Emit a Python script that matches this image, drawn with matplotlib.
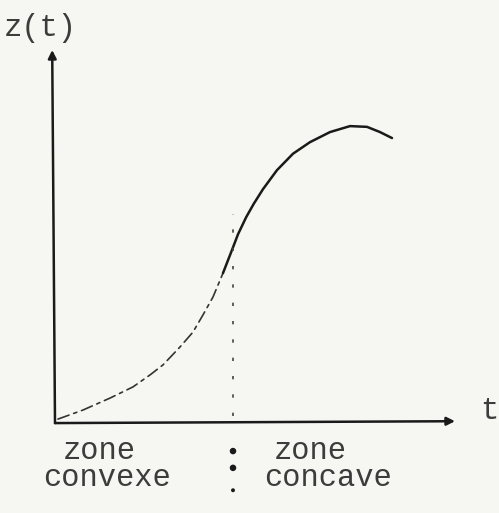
import numpy as np
import matplotlib
matplotlib.use("Agg")
import matplotlib.pyplot as plt

# --- Curve z(t): lower convex part (dashed) then concave part (solid) ---
t_low = [0.075, 0.70, 1.375, 1.95, 2.375, 2.70, 3.125, 3.45, 3.70, 3.95, 4.20]
z_low = [0.107, 0.35, 0.67, 0.97, 1.29, 1.56, 2.04, 2.44, 2.90, 3.38, 4.02]
t_high = [4.20, 4.425, 4.575, 4.78, 4.97, 5.20, 5.55, 5.95, 6.375, 6.875,
          7.375, 7.80, 8.125, 8.425]
z_high = [4.02, 4.64, 5.06, 5.52, 5.88, 6.27, 6.78, 7.22, 7.53, 7.80,
          7.96, 7.94, 7.80, 7.64]

# inflection point and the marks below the t axis
t_infl = 4.45
z_infl_top = 5.6
sep_dots_z = [-0.75, -1.2, -1.8]
sep_dots_size = [22, 22, 8]

axis_t_end = 10.0
axis_z_end = 10.0

ink = "#1a1a1a"
paper = "#f6f6f3"
font = "Liberation Mono"

fig = plt.figure(figsize=(4.99, 5.13), dpi=100, facecolor=paper)
ax = fig.add_axes([0, 0, 1, 1])
ax.set_facecolor(paper)
ax.set_xlim(-1.375, 11.1)
ax.set_ylim(-2.41, 11.34)
ax.axis("off")

# axes with arrow heads
ax.annotate("", xy=(axis_t_end, 0.05), xytext=(0, 0),
            arrowprops=dict(arrowstyle="-|>", color=ink, lw=1.8,
                            mutation_scale=12, shrinkA=0, shrinkB=0))
ax.annotate("", xy=(-0.07, axis_z_end), xytext=(0, 0),
            arrowprops=dict(arrowstyle="-|>", color=ink, lw=1.8,
                            mutation_scale=12, shrinkA=0, shrinkB=0))

# the curve
ax.plot(t_low, z_low, color="#333333", lw=1.2, ls=(0, (7, 3, 2, 3)),
        dash_capstyle="round")
ax.plot(t_high, z_high, color=ink, lw=1.8, solid_joinstyle="round",
        solid_capstyle="round")

# vertical separator at the inflection point
ax.plot([t_infl, t_infl], [0.2, z_infl_top], color="#444444", lw=1.2,
        ls=(0, (2, 9)))
ax.scatter([t_infl] * 3, sep_dots_z, s=sep_dots_size, color=ink, lw=0)

# labels
txt = dict(family=font, color="#3c3c3c", fontsize=22)
ax.text(-1.28, 10.6, "z(t)", ha="left", va="center", **txt)
ax.text(10.85, 0.32, "t", ha="center", va="center", **txt)
ax.text(1.1, -0.75, "zone", ha="center", va="center", **txt)
ax.text(1.3, -1.48, "convexe", ha="center", va="center", **txt)
ax.text(6.375, -0.75, "zone", ha="center", va="center", **txt)
ax.text(6.83, -1.48, "concave", ha="center", va="center", **txt)

fig.savefig("out.png", dpi=100, facecolor=paper)
